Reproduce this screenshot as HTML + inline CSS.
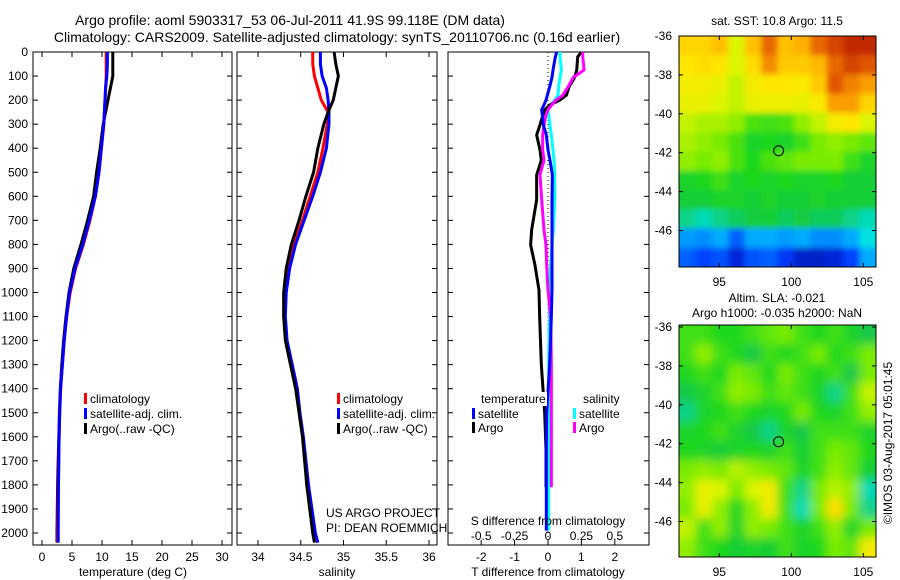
<!DOCTYPE html>
<html><head><meta charset="utf-8"><style>
html,body{margin:0;padding:0;background:#fff;}
svg{display:block;font-family:"Liberation Sans",sans-serif;}
text{fill:#000;}
</style></head><body>
<svg id="fig" width="900" height="580" viewBox="0 0 900 580">
<defs>
<clipPath id="m1clip"><rect x="679" y="36" width="197" height="231"/></clipPath>
<clipPath id="m2clip"><rect x="679" y="325" width="197" height="232"/></clipPath>
<filter id="blur1"><feGaussianBlur stdDeviation="3"/></filter>
<filter id="blur2"><feGaussianBlur stdDeviation="5"/></filter>
</defs>
<text x="290" y="25" font-size="14" text-anchor="middle">Argo profile: aoml 5903317_53 06-Jul-2011 41.9S 99.118E (DM data)</text>
<text x="337" y="42" font-size="14" text-anchor="middle">Climatology: CARS2009. Satellite-adjusted climatology: synTS_20110706.nc (0.16d earlier)</text>
<g id="p1"></g>
<g id="p2"></g>
<g id="p3"></g>
<g id="m1"></g>
<g id="m2"></g>
<text x="777" y="25" font-size="12" text-anchor="middle">sat. SST: 10.8  Argo: 11.5</text>
<text x="777" y="302" font-size="12" text-anchor="middle">Altim. SLA: -0.021</text>
<text x="777" y="317" font-size="12" text-anchor="middle">Argo h1000: -0.035 h2000: NaN</text>
<text transform="translate(892,443) rotate(-90)" font-size="12" text-anchor="middle">©IMOS 03-Aug-2017 05:01:45</text>
</svg>
<script>
// ---------- data ----------
const depthLevels = [0,50,100,150,200,250,300,400,500,600,700,800,900,1000,1100,1200,1300,1400,1500,1600,1800,2000,2040];
const tempArgo = [11.8,11.8,11.8,11.4,11.0,10.6,10.2,9.7,9.1,8.6,7.6,6.5,5.3,4.5,4.0,3.6,3.3,3.05,2.9,2.8,2.6,2.5,2.5];
const tempClim = [10.7,10.7,10.7,10.6,10.5,10.4,10.3,9.9,9.5,8.9,8.0,6.9,5.6,4.7,4.1,3.7,3.4,3.1,2.95,2.85,2.7,2.6,2.6];
const tempSat  = [10.9,10.9,10.8,10.6,10.5,10.4,10.3,9.9,9.5,8.9,7.9,6.8,5.5,4.6,4.1,3.7,3.4,3.1,2.95,2.85,2.75,2.7,2.7];
const salArgo = [34.89,34.91,34.94,34.91,34.88,34.82,34.77,34.70,34.65,34.56,34.48,34.39,34.33,34.30,34.30,34.32,34.38,34.44,34.48,34.52,34.57,34.64,34.66];
const salClim = [34.64,34.64,34.66,34.70,34.74,34.82,34.81,34.76,34.70,34.61,34.52,34.42,34.36,34.32,34.31,34.33,34.40,34.46,34.49,34.53,34.59,34.67,34.70];
const salSat  = [34.73,34.73,34.75,34.80,34.82,34.83,34.83,34.80,34.73,34.64,34.54,34.44,34.37,34.33,34.32,34.34,34.40,34.46,34.49,34.53,34.59,34.67,34.70];
const diffDepth = [0,20,75,105,145,180,200,220,240,262,303,345,407,450,511,615,740,802,886,990,1100,1300,1500,1650,1810,1990];
const tdArgo = [1.0,0.89,0.86,0.80,0.63,0.55,0.35,0.06,-0.09,-0.15,-0.24,-0.34,-0.24,-0.2,-0.34,-0.34,-0.49,-0.52,-0.39,-0.27,-0.25,-0.2,-0.1,-0.06,-0.06,null];
const tdSat  = [0.26,0.22,0.15,0.12,0.05,-0.02,-0.06,-0.12,-0.19,-0.17,-0.14,-0.05,0,0.06,0.13,0.12,0.12,0.12,0.12,0.12,0.1,0.05,-0.04,-0.05,-0.05,-0.05];
const sdArgo = [0.26,0.26,0.27,0.19,0.15,0.11,0.06,0.028,0.0,-0.015,-0.03,-0.04,-0.04,-0.03,-0.06,-0.047,-0.03,-0.015,-0.01,0,0.02,0.025,0.025,0.025,0.025,null];
const sdSat  = [0.09,0.09,0.1,0.09,0.08,0.075,0.05,0.02,0.0,0.005,0.015,0.025,0.037,0.045,0.05,0.05,0.04,0.03,0.02,0.01,0.01,0.005,0.005,0.005,0.005,0.005];
const depthTicks = [0,100,200,300,400,500,600,700,800,900,1000,1100,1200,1300,1400,1500,1600,1700,1800,1900,2000];
const tempTicks = [0,5,10,15,20,25,30];
const salTicks = [34,34.5,35,35.5,36];
const tdTicks = [-2,-1,0,1,2];
const sdTicks = [-0.5,-0.25,0,0.25,0.5];
const lonTicks = [95,100,105];
const latTicks = [-36,-38,-40,-42,-44,-46];
const argoLon = 99.118, argoLat = -41.9;
const sstGrid = [
[.76,.76,.78,.68,.78,.88,.78,.8,.88,.92,.95,.95],
[.74,.75,.74,.68,.75,.84,.77,.77,.79,.88,.92,.9],
[.72,.72,.7,.66,.72,.74,.74,.73,.77,.9,.85,.82],
[.7,.7,.68,.66,.7,.71,.71,.7,.73,.82,.82,.76],
[.66,.64,.64,.62,.56,.55,.56,.62,.66,.72,.74,.68],
[.64,.62,.6,.56,.5,.52,.5,.55,.6,.62,.6,.58],
[.62,.6,.62,.56,.52,.56,.58,.6,.6,.6,.55,.5],
[.5,.52,.55,.5,.52,.5,.52,.5,.5,.52,.48,.48],
[.48,.48,.5,.5,.48,.5,.48,.48,.5,.48,.48,.48],
[.42,.4,.42,.44,.46,.48,.44,.46,.44,.44,.42,.4],
[.28,.26,.3,.2,.3,.3,.28,.3,.26,.26,.3,.38],
[.2,.16,.18,.1,.18,.2,.14,.08,.08,.1,.16,.3]];
const slaGrid = [
[.55,.55,.52,.52,.55,.58,.6,.55,.52,.55,.5,.45],
[.55,.62,.55,.52,.45,.55,.52,.55,.6,.52,.55,.6],
[.52,.55,.52,.6,.58,.52,.6,.55,.52,.55,.45,.6],
[.45,.5,.55,.62,.6,.55,.58,.55,.5,.42,.55,.66],
[.42,.5,.52,.55,.52,.5,.52,.6,.52,.5,.55,.62],
[.5,.52,.55,.5,.45,.42,.5,.45,.55,.55,.55,.5],
[.52,.5,.48,.5,.52,.5,.55,.48,.55,.6,.58,.52],
[.6,.62,.6,.65,.62,.6,.58,.5,.55,.62,.58,.48],
[.62,.7,.68,.6,.68,.72,.55,.42,.6,.65,.62,.4],
[.6,.7,.62,.52,.62,.72,.55,.4,.6,.75,.6,.42],
[.66,.55,.62,.5,.62,.6,.55,.5,.55,.62,.5,.6],
[.62,.55,.52,.48,.5,.48,.55,.5,.52,.6,.58,.72]];

// ---------- helpers ----------
const NS='http://www.w3.org/2000/svg';
function mk(parent,tag,attrs,txt){const e=document.createElementNS(NS,tag);for(const k in attrs)e.setAttribute(k,attrs[k]);if(txt!==undefined)e.textContent=txt;parent.appendChild(e);return e;}
const Y0=52, YS=0.2405, YB=545;
const yD = d => Y0 + d*YS;
function axisBox(g,x0,x1,name){
  const r=mk(g,'rect',{x:x0,y:Y0,width:x1-x0,height:YB-Y0,fill:'none',stroke:'#000','stroke-width':1});
  
  
}
function yTicks(g,x0,x1,labels){
  depthTicks.forEach(d=>{const y=yD(d);
    mk(g,'line',{x1:x0,x2:x0+5,y1:y,y2:y,stroke:'#000'});
    mk(g,'line',{x1:x1-5,x2:x1,y1:y,y2:y,stroke:'#000'});
    if(labels){const t=mk(g,'text',{x:x0-5,y:y+4,'font-size':12,'text-anchor':'end'},String(d));
      
      }
  });
}
function xTicks(g,ticks,fx,labelY,fmt,top){
  ticks.forEach(v=>{const x=fx(v);
    mk(g,'line',{x1:x,x2:x,y1:YB,y2:YB-5,stroke:'#000'});
    if(top!==false) mk(g,'line',{x1:x,x2:x,y1:Y0,y2:Y0+5,stroke:'#000'});
    const t=mk(g,'text',{x:x,y:labelY,'font-size':12,'text-anchor':'middle'},fmt?fmt(v):String(v));
    
    
  });
}
function profile(g,depths,vals,fx,color,name,w){
  let segs=[],cur=[];
  depths.forEach((d,i)=>{const v=vals[i]; if(v===null){if(cur.length)segs.push(cur);cur=[];return;}
    cur.push([fx(v),yD(d)]);});
  if(cur.length)segs.push(cur);
  segs.forEach(s=>{const p=mk(g,'polyline',{points:s.map(q=>q.join(',')).join(' '),fill:'none',stroke:color,'stroke-width':w||3,'stroke-linejoin':'round'});
    
    });
}
function legendEntry(g,x,y,color,label){
  mk(g,'rect',{x:x,y:y-10,width:3,height:11,fill:color});
  const t=mk(g,'text',{x:x+6,y:y,'font-size':12},label);
  
  
}

// ---------- panel 1: temperature ----------
const p1=document.getElementById('p1');
const fxT = v => 42 + v*6;
axisBox(p1,33,232,'temperature-axes');
yTicks(p1,33,232,true);
xTicks(p1,tempTicks,fxT,561);
profile(p1,depthLevels,tempArgo,fxT,'#000','temp-argo-line');
profile(p1,depthLevels,tempClim,fxT,'#f00','temp-climatology-line');
profile(p1,depthLevels,tempSat,fxT,'#00f','temp-satellite-line');
mk(p1,'text',{x:133,y:576,'font-size':12,'text-anchor':'middle'},'temperature (deg C)');
legendEntry(p1,84,403,'#f00','climatology');
legendEntry(p1,84,418,'#00f','satellite-adj. clim.');
legendEntry(p1,84,433,'#000','Argo(..raw -QC)');

// ---------- panel 2: salinity ----------
const p2=document.getElementById('p2');
const fxS = v => 258 + (v-34)*85.5;
axisBox(p2,237,437,'salinity-axes');
yTicks(p2,237,437,false);
xTicks(p2,salTicks,fxS,561);
profile(p2,depthLevels,salClim,fxS,'#f00','sal-climatology-line');
profile(p2,depthLevels,salSat,fxS,'#00f','sal-satellite-line');
profile(p2,depthLevels,salArgo,fxS,'#000','sal-argo-line');
mk(p2,'text',{x:337,y:576,'font-size':12,'text-anchor':'middle'},'salinity');
legendEntry(p2,337,403,'#f00','climatology');
legendEntry(p2,337,418,'#00f','satellite-adj. clim.');
legendEntry(p2,337,433,'#000','Argo(..raw -QC)');
mk(p2,'text',{x:326,y:517,'font-size':12},'US ARGO PROJECT');
mk(p2,'text',{x:326,y:532,'font-size':12},'PI: DEAN ROEMMICH');

// ---------- panel 3: differences ----------
const p3=document.getElementById('p3');
const fxD = v => 548 + v*33.4;
const fxSD = v => fxD(v*4);
axisBox(p3,448,649,'difference-axes');
yTicks(p3,448,649,false);
xTicks(p3,tdTicks,fxD,561,null,false);
sdTicks.forEach(v=>{const t=mk(p3,'text',{x:fxSD(v),y:540,'font-size':12,'text-anchor':'middle'},String(v));
  
  });
mk(p3,'line',{x1:fxD(0),x2:fxD(0),y1:Y0,y2:YB,stroke:'#000','stroke-dasharray':'1,3'});
profile(p3,diffDepth,sdSat,fxSD,'#0ff','sal-diff-satellite-line');
profile(p3,diffDepth,tdArgo,fxD,'#000','temp-diff-argo-line');
profile(p3,diffDepth,sdArgo,fxSD,'#f0f','sal-diff-argo-line');
profile(p3,diffDepth,tdSat,fxD,'#00f','temp-diff-satellite-line');
mk(p3,'text',{x:548,y:525,'font-size':12,'text-anchor':'middle'},'S difference from climatology');
mk(p3,'text',{x:548,y:576,'font-size':12,'text-anchor':'middle'},'T difference from climatology');
mk(p3,'rect',{x:480,y:392,width:67,height:14,fill:'#fff'});
mk(p3,'text',{x:481,y:403,'font-size':12},'temperature');
mk(p3,'text',{x:583,y:403,'font-size':12},'salinity');
legendEntry(p3,472,418,'#00f','satellite');
legendEntry(p3,472,432,'#000','Argo');
legendEntry(p3,573,418,'#0ff','satellite');
legendEntry(p3,573,432,'#f0f','Argo');

// ---------- maps ----------
const stops=[[0,[0,0,140]],[0.15,[0,60,255]],[0.3,[0,170,255]],[0.38,[0,225,225]],[0.45,[20,200,70]],[0.52,[30,215,30]],[0.6,[120,235,0]],[0.68,[220,245,0]],[0.74,[255,230,0]],[0.8,[255,175,0]],[0.9,[225,85,0]],[1,[160,0,0]]];
function cmap(v){for(let i=1;i<stops.length;i++){if(v<=stops[i][0]){const a=stops[i-1],b=stops[i],t=(v-a[0])/(b[0]-a[0]);const c=a[1].map((q,k)=>Math.round(q+(b[1][k]-q)*t));return `rgb(${c})`;}}return 'rgb(160,0,0)';}
function drawMap(id,grid,top,clip,filt){
  const g=document.getElementById(id);
  const x0=679,x1=876,lon0=92.2,lonS=14.4,latS=19.45;
  const fxL = lon => x0 + (lon-lon0)*lonS;
  const fyL = lat => top + (-36-lat)*latS + (top===36?0:2);
  const h=(top===36?231:232);
  const inner=mk(g,'g',{'clip-path':`url(#${clip})`});
  const cg=mk(inner,'g',{filter:`url(#${filt})`});
  const rows=grid.length, cols=grid[0].length, cw=(x1-x0)/cols, ch=h/rows;
  grid.forEach((row,r)=>row.forEach((v,c)=>{
    let x=x0+c*cw, y=top+r*ch, w=cw+0.5, hh=ch+0.5;
    if(c===0){x-=15;w+=15;} if(c===cols-1){w+=15;}
    if(r===0){y-=15;hh+=15;} if(r===rows-1){hh+=15;}
    const cell=mk(cg,'rect',{x:x,y:y,width:w,height:hh,fill:cmap(v)});
    
    
  }));
  mk(g,'rect',{x:x0,y:top,width:x1-x0,height:h,fill:'none',stroke:'#000'});
  lonTicks.forEach(l=>{const x=fxL(l);mk(g,'line',{x1:x,x2:x,y1:top,y2:top+4,stroke:'#000'});mk(g,'line',{x1:x,x2:x,y1:top+h,y2:top+h-4,stroke:'#000'});
    const t=mk(g,'text',{x:x,y:top+h+19,'font-size':12,'text-anchor':'middle'},String(l));
    
    });
  latTicks.forEach(l=>{const y=fyL(l);mk(g,'line',{x1:x0,x2:x0+4,y1:y,y2:y,stroke:'#000'});mk(g,'line',{x1:x1,x2:x1-4,y1:y,y2:y,stroke:'#000'});
    const t=mk(g,'text',{x:x0-7,y:y+4,'font-size':12,'text-anchor':'end'},String(l));
    
    });
  const c=mk(g,'circle',{cx:fxL(argoLon),cy:fyL(argoLat),r:5,fill:'none',stroke:'#000'});
  
  
}
drawMap('m1',sstGrid,36,'m1clip','blur1');
drawMap('m2',slaGrid,325,'m2clip','blur2');
</script>
</body></html>
